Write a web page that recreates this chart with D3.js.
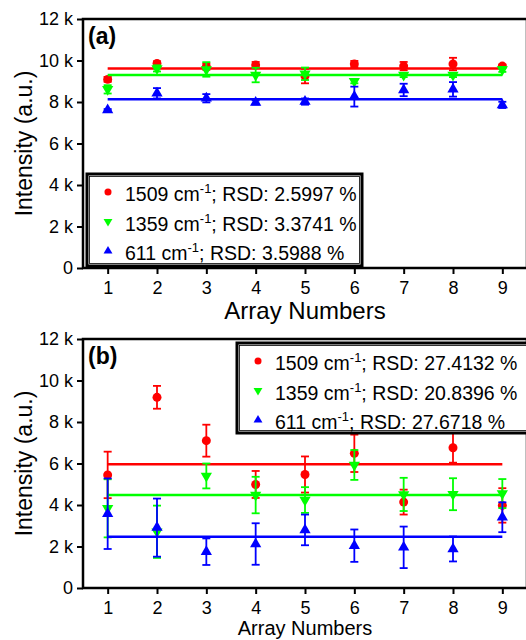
<!DOCTYPE html>
<html>
<head>
<meta charset="utf-8">
<script src="https://cdn.jsdelivr.net/npm/d3@7"></script>
<style>
  body { margin: 0; background: #fff; }
  text { font-family: "Liberation Sans", Arial, sans-serif; }
</style>
</head>
<body>
<div id="chart"></div>
<script>
// canvas
var svgWidth = 526;
var svgHeight = 640;

// data, values in k (thousands)
var arrayNumbers = [1, 2, 3, 4, 5, 6, 7, 8, 9];
var yTicks = [0, 2, 4, 6, 8, 10, 12];

var seriesNames = ["1509", "1359", "611"];
var seriesColors = ["#ff0000", "#00ff00", "#0000ff"];

// panel (a)
var aRed = [9.09, 9.86, 9.70, 9.78, 9.25, 9.83, 9.73, 9.83, 9.73];
var aRedErr = [0.12, 0.10, 0.15, 0.15, 0.35, 0.15, 0.20, 0.30, 0.08];
var aGreen = [8.61, 9.62, 9.57, 9.30, 9.36, 9.00, 9.30, 9.30, 9.57];
var aGreenErr = [0.20, 0.15, 0.35, 0.35, 0.30, 0.10, 0.10, 0.10, 0.12];
var aBlue = [7.61, 8.42, 8.18, 7.98, 8.02, 8.26, 8.58, 8.61, 7.86];
var aBlueErr = [0.05, 0.25, 0.20, 0.10, 0.15, 0.48, 0.30, 0.35, 0.15];
var aMeans = [9.62, 9.30, 8.13];
var aRSD = ["2.5997", "3.3741", "3.5988"];

// panel (b)
var bRed = [5.45, 9.19, 7.10, 4.99, 5.47, 6.49, 4.14, 6.76, 3.98];
var bRedErr = [1.12, 0.55, 0.77, 0.65, 0.87, 0.90, 0.60, 0.72, 0.83];
var bGreen = [3.84, 2.71, 5.40, 4.48, 4.24, 5.93, 4.51, 4.52, 4.55];
var bGreenErr = [1.40, 1.26, 0.60, 0.88, 0.62, 0.72, 0.80, 0.77, 0.70];
var bBlue = [3.58, 2.91, 1.75, 2.12, 2.80, 2.04, 1.96, 1.88, 3.41];
var bBlueErr = [1.70, 1.40, 0.64, 1.00, 0.74, 0.78, 1.00, 0.60, 0.72];
var bMeans = [5.96, 4.48, 2.47];
var bRSD = ["27.4132", "20.8396", "27.6718"];

var svg = d3.select("#chart")
    .append("svg")
    .attr("width", svgWidth)
    .attr("height", svgHeight);

// symbols
var symUp = d3.symbol().type(d3.symbolTriangle);
var symCircle = d3.symbol().type(d3.symbolCircle);

function marker(g, k, size) {
    if (k === 0) {
        return g.append("path").attr("d", symCircle.size(size * 1.15)());
    }
    var p = g.append("path").attr("d", symUp.size(size)());
    if (k === 1) p.attr("transform", "rotate(180)");
    return p;
}

function drawPanel(opts) {
    var left = 83, right = 527;
    var x = d3.scaleLinear().domain([0.5, 9.5]).range([left, right]);
    var y = d3.scaleLinear().domain([0, 12]).range([opts.bottom, opts.top]);

    var g = svg.append("g");

    // series
    opts.series.forEach(function(s, k) {
        var color = seriesColors[k];
        var data = arrayNumbers.map(function(n, i) {
            return { n: n, v: s.values[i], e: s.errs[i] };
        });

        // mean line
        g.append("line")
            .attr("x1", x(1)).attr("x2", x(9))
            .attr("y1", y(opts.means[k])).attr("y2", y(opts.means[k]))
            .attr("stroke", color)
            .attr("stroke-width", 2.5);

        // error bars
        var eb = g.append("g").attr("stroke", color).attr("stroke-width", 1.8);
        data.forEach(function(d) {
            eb.append("line")
                .attr("x1", x(d.n)).attr("x2", x(d.n))
                .attr("y1", y(d.v - d.e)).attr("y2", y(d.v + d.e));
            [d.v - d.e, d.v + d.e].forEach(function(c) {
                eb.append("line")
                    .attr("x1", x(d.n) - 4).attr("x2", x(d.n) + 4)
                    .attr("y1", y(c)).attr("y2", y(c));
            });
        });

        // markers
        data.forEach(function(d) {
            var mg = g.append("g")
                .attr("transform", `translate(${x(d.n)}, ${y(d.v)})`)
                .attr("fill", color);
            marker(mg, k, 55);
        });
    });

    // axes
    var leftAxis = d3.axisLeft(y)
        .tickValues(yTicks)
        .tickSize(6)
        .tickPadding(4)
        .tickFormat(function(d) { return d === 0 ? "0" : d + " k"; });

    var bottomAxis = d3.axisBottom(x)
        .tickValues(arrayNumbers)
        .tickSize(6)
        .tickPadding(7)
        .tickFormat(d3.format("d"));

    var ya = svg.append("g")
        .attr("transform", `translate(${left}, 0)`)
        .call(leftAxis);
    var xa = svg.append("g")
        .attr("transform", `translate(0, ${opts.bottom})`)
        .call(bottomAxis);

    [ya, xa].forEach(function(a) {
        a.select(".domain").remove();
        a.selectAll("line").attr("stroke", "#000").attr("stroke-width", 2);
        a.selectAll("text")
            .attr("fill", "#000")
            .style("font-size", "18px")
            .style("font-family", "'Liberation Sans', Arial, sans-serif");
    });

    // frame
    svg.append("path")
        .attr("d", `M${left},${opts.bottom}V${opts.top}H${right}V${opts.bottom}Z`)
        .attr("fill", "none")
        .attr("stroke", "#000")
        .attr("stroke-width", 2.5);

    // panel letter
    svg.append("text")
        .attr("x", 88)
        .attr("y", opts.top + 25)
        .style("font-size", "23px")
        .style("font-weight", "bold")
        .text(opts.letter);

    // axis titles
    svg.append("text")
        .attr("transform", `translate(32, ${(opts.top + opts.bottom) / 2}) rotate(-90)`)
        .attr("text-anchor", "middle")
        .style("font-size", "23px")
        .text("Intensity (a.u.)");

    svg.append("text")
        .attr("x", 305)
        .attr("y", opts.titleY)
        .attr("text-anchor", "middle")
        .style("font-size", opts.titleSize)
        .text("Array Numbers");

    // legend
    var lg = svg.append("g")
        .attr("transform", `translate(${opts.legend.x}, ${opts.legend.y})`);
    lg.append("rect")
        .attr("width", opts.legend.w)
        .attr("height", opts.legend.h)
        .attr("fill", "#fff")
        .attr("stroke", "#000")
        .attr("stroke-width", 3);
    lg.append("rect")
        .attr("x", 2.5).attr("y", 2.5)
        .attr("width", opts.legend.w - 5)
        .attr("height", opts.legend.h - 5)
        .attr("fill", "none")
        .attr("stroke", "#000")
        .attr("stroke-width", 0.8);

    seriesNames.forEach(function(name, k) {
        var ry = 20 + k * 29.5;
        var mg = lg.append("g")
            .attr("transform", `translate(21, ${ry - 2})`)
            .attr("fill", seriesColors[k]);
        marker(mg, k, 34);

        var t = lg.append("text")
            .attr("x", 38)
            .attr("y", ry + 7)
            .style("font-size", "19.5px");
        t.append("tspan").text(name + " cm");
        t.append("tspan").attr("dy", -8).style("font-size", "13px").text("-1");
        t.append("tspan").attr("dy", 8).text("; RSD: " + opts.rsd[k] + " %");
    });
}

drawPanel({
    top: 19, bottom: 268, letter: "(a)",
    series: [
        { values: aRed, errs: aRedErr },
        { values: aGreen, errs: aGreenErr },
        { values: aBlue, errs: aBlueErr }
    ],
    means: aMeans,
    rsd: aRSD,
    titleY: 319, titleSize: "24px",
    legend: { x: 87, y: 174, w: 275, h: 92 }
});

// bottom title squeezed a little so it stays inside the page
drawPanel({
    top: 339, bottom: 588, letter: "(b)",
    series: [
        { values: bRed, errs: bRedErr },
        { values: bGreen, errs: bGreenErr },
        { values: bBlue, errs: bBlueErr }
    ],
    means: bMeans,
    rsd: bRSD,
    titleY: 635, titleSize: "20px",
    legend: { x: 237, y: 343, w: 295, h: 90 }
});
</script>
</body>
</html>
